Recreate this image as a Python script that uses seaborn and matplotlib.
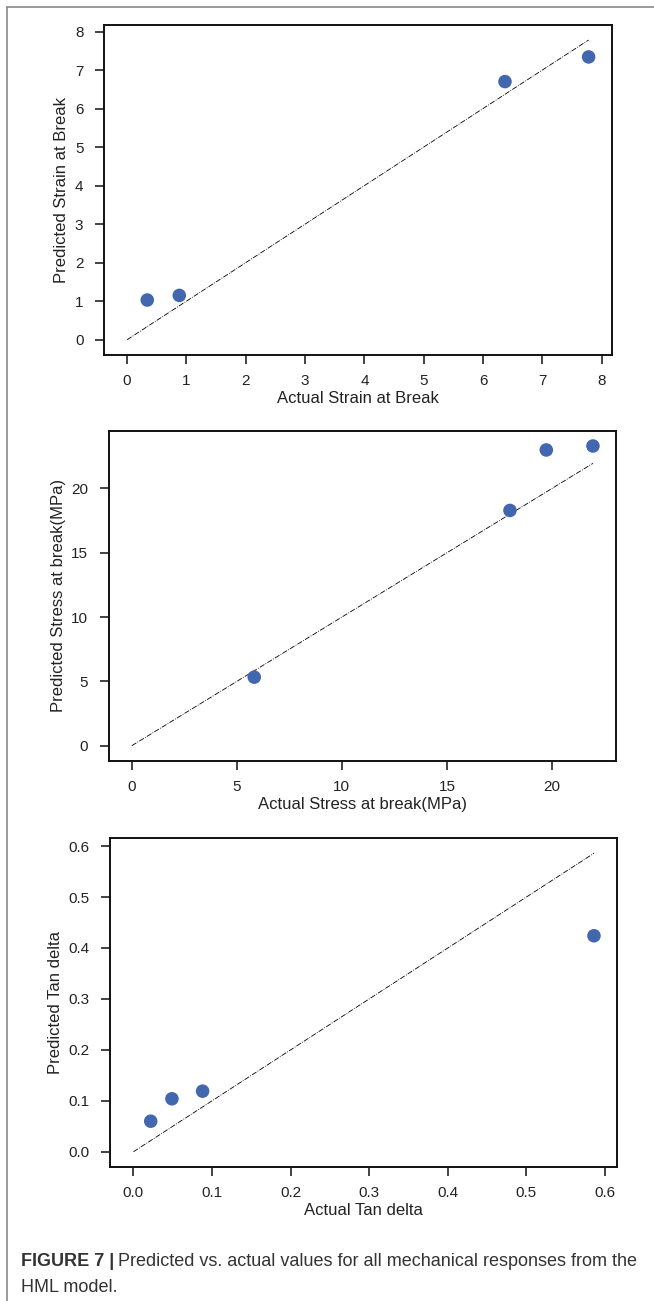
import numpy as np
import pandas as pd
import matplotlib
matplotlib.use('Agg')
import matplotlib.pyplot as plt
from matplotlib.lines import Line2D
import seaborn as sns

# values
strain_actual = [0.34, 0.88, 6.37, 7.78]
strain_pred = [1.03, 1.15, 6.70, 7.34]

stress_actual = [5.83, 18.0, 19.73, 21.95]
stress_pred = [5.33, 18.29, 22.99, 23.30]

tan_actual = [0.022, 0.049, 0.088, 0.586]
tan_pred = [0.060, 0.104, 0.119, 0.424]

x_labels = ['Actual Strain at Break', 'Actual Stress at break(MPa)', 'Actual Tan delta']
y_labels = ['Predicted Strain at Break', 'Predicted Stress at break(MPa)', 'Predicted Tan delta']
x_ticks = [list(range(0, 9)), [0, 5, 10, 15, 20], [0.0, 0.1, 0.2, 0.3, 0.4, 0.5, 0.6]]
y_ticks = [list(range(0, 9)), [0, 5, 10, 15, 20], [0.0, 0.1, 0.2, 0.3, 0.4, 0.5, 0.6]]
tick_fmt = ['{:d}', '{:d}', '{:.1f}']

sns.set_theme(style='ticks')
plt.rcParams['font.family'] = ['Liberation Sans', 'DejaVu Sans']
plt.rcParams['axes.linewidth'] = 1.4
plt.rcParams['xtick.major.width'] = 1.2
plt.rcParams['ytick.major.width'] = 1.2
plt.rcParams['xtick.major.size'] = 6.3
plt.rcParams['ytick.major.size'] = 6.3

W, H = 654, 1301
fig = plt.figure(figsize=(W / 100, H / 100), dpi=100)

# axes boxes in pixels: left, right, top, bottom
boxes = [(104, 611.7, 25, 354.7),
         (108.7, 616, 431, 760.7),
         (110.4, 617, 838.3, 1166.7)]

datasets = [(strain_actual, strain_pred),
            (stress_actual, stress_pred),
            (tan_actual, tan_pred)]

for i, ((l, r, t, b), (xa, yp)) in enumerate(zip(boxes, datasets)):
    ax = fig.add_axes([l / W, 1 - b / H, (r - l) / W, (b - t) / H])
    df = pd.DataFrame({'actual': xa, 'pred': yp})
    # identity line from 0 to max actual
    ident = pd.DataFrame({'v': [0, max(xa)]})
    sns.lineplot(data=ident, x='v', y='v', ax=ax, color='black',
                 linestyle='-.', linewidth=0.6)
    sns.scatterplot(data=df, x='actual', y='pred', ax=ax, s=95,
                    color='#4267AE', edgecolor='none', zorder=3)
    ax.set_xticks(x_ticks[i])
    ax.set_xticklabels([tick_fmt[i].format(v) for v in x_ticks[i]])
    ax.set_yticks(y_ticks[i])
    ax.set_yticklabels([tick_fmt[i].format(v) for v in y_ticks[i]])
    ax.margins(0.05)
    ax.tick_params(axis='x', which='major', labelsize=11, colors='#222222',
                   pad=7.5)
    ax.tick_params(axis='y', which='major', labelsize=11, colors='#222222',
                   pad=8.5)
    ax.set_xlabel(x_labels[i], fontsize=12, color='#222222', labelpad=2)
    ax.set_ylabel(y_labels[i], fontsize=12, color='#222222', labelpad=4)
    for sp in ax.spines.values():
        sp.set_color('#111111')

# page frame lines (top and left)
fig.add_artist(Line2D([7 / W, 1], [1 - 7 / H, 1 - 7 / H], color='#8a8a8a',
                      linewidth=1.2, transform=fig.transFigure))
fig.add_artist(Line2D([7.3 / W, 7.3 / W], [0, 1 - 7 / H], color='#8a8a8a',
                      linewidth=1.2, transform=fig.transFigure))

# caption
cap_size = 13
bold = fig.text(21 / W, 1 - 1262 / H, 'FIGURE 7 |', fontsize=cap_size,
                fontweight='bold', color='#333333', va='center', ha='left')
fig.canvas.draw()
bb = bold.get_window_extent(renderer=fig.canvas.get_renderer())
fig.text((bb.x1 + 4) / W, 1 - 1262 / H,
         'Predicted vs. actual values for all mechanical responses from the',
         fontsize=cap_size, color='#333333', va='center', ha='left')
fig.text(21 / W, 1 - 1287 / H, 'HML model.',
         fontsize=cap_size, color='#333333', va='center', ha='left')

plt.savefig('out.png', dpi=100)
